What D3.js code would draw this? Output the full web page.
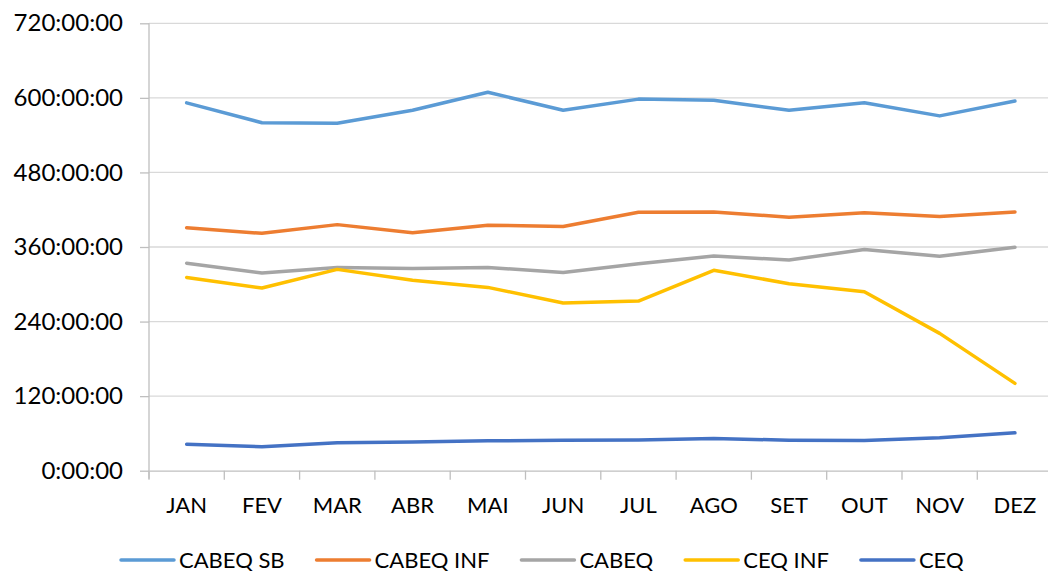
<!DOCTYPE html>
<html>
<head>
<meta charset="utf-8">
<script src="https://cdn.jsdelivr.net/npm/d3@7"></script>
<style>
  body { margin: 0; background: #fff; }
  svg text { font-family: Lato, "Open Sans", sans-serif; fill: #000; }
</style>
</head>
<body>
<svg id="chart" width="1048" height="573"></svg>
<script>
const months = ["JAN", "FEV", "MAR", "ABR", "MAI", "JUN", "JUL", "AGO", "SET", "OUT", "NOV", "DEZ"];

// hours per month
const cabeqSb = [592, 560, 559, 580, 609, 580, 598, 596, 580, 592, 571, 595];
const cabeqInf = [391, 382, 396, 383, 395, 393, 416, 416.5, 408, 415, 409, 416.5];
const cabeq = [334, 318, 327, 325.5, 327, 319, 333, 345.5, 339, 356, 345, 359.5];
const ceqInf = [311, 294, 324, 306.5, 295, 270, 273, 322.5, 301, 288, 221, 140.5];
const ceq = [42.5, 38.5, 45, 46, 48, 49, 49.5, 52, 49, 48.5, 53, 61];

const yTicks = [0, 120, 240, 360, 480, 600, 720];

const seriesNames = ["CABEQ SB", "CABEQ INF", "CABEQ", "CEQ INF", "CEQ"];
const seriesValues = [cabeqSb, cabeqInf, cabeq, ceqInf, ceq];
const seriesColors = ["#5B9BD5", "#ED7D31", "#A5A5A5", "#FFC000", "#4472C4"];

const svg = d3.select("#chart");

const plotLeft = 149, plotRight = 1052.6, plotTop = 23.3, plotBottom = 470.7;

const x = d3.scaleBand().domain(months).range([plotLeft, plotRight]);
const y = d3.scaleLinear().domain([0, 720]).range([plotBottom, plotTop]);

const hourFormat = d => d + ":00:00";

// gridlines
svg.append("g")
  .selectAll("line")
  .data(yTicks.filter(d => d > 0))
  .enter()
  .append("line")
  .attr("x1", plotLeft)
  .attr("x2", plotRight)
  .attr("y1", d => y(d))
  .attr("y2", d => y(d))
  .attr("stroke", "#d9d9d9")
  .attr("stroke-width", 1.3);

// y axis
const yAxis = svg.append("g")
  .attr("transform", "translate(" + plotLeft + ",0)")
  .call(d3.axisLeft(y).tickValues(yTicks).tickFormat(hourFormat).tickSize(9).tickPadding(17).tickSizeOuter(0));
yAxis.select(".domain").attr("stroke", "#bfbfbf").attr("stroke-width", 1.3)
  .attr("d", "M0," + plotTop + "V" + (plotBottom + 8));
yAxis.selectAll(".tick line").attr("stroke", "#bfbfbf").attr("stroke-width", 1.3);
yAxis.selectAll("text").attr("font-size", 24).attr("fill", "#000");

// x axis
const xAxis = svg.append("g")
  .attr("transform", "translate(0," + plotBottom + ")")
  .call(d3.axisBottom(x).tickSize(0).tickPadding(27).tickSizeOuter(0));
xAxis.select(".domain").attr("stroke", "#bfbfbf").attr("stroke-width", 1.3);
xAxis.selectAll("text").attr("font-size", 22).attr("fill", "#000");

xAxis.selectAll(".boundary")
  .data(d3.range(months.length + 1))
  .enter()
  .append("line")
  .attr("x1", i => plotLeft + i * x.step())
  .attr("x2", i => plotLeft + i * x.step())
  .attr("y1", 0)
  .attr("y2", 9)
  .attr("stroke", "#bfbfbf")
  .attr("stroke-width", 1.3);

// lines
const line = d3.line()
  .x((d, i) => x(months[i]) + x.bandwidth() / 2)
  .y(d => y(d));

svg.append("g")
  .selectAll("path")
  .data(seriesValues)
  .enter()
  .append("path")
  .attr("d", d => line(d))
  .attr("fill", "none")
  .attr("stroke", (d, i) => seriesColors[i])
  .attr("stroke-width", 3.5)
  .attr("stroke-linecap", "round")
  .attr("stroke-linejoin", "round");

// legend
const legend = svg.append("g").attr("transform", "translate(0,560)");
const items = legend.selectAll("g")
  .data(seriesNames)
  .enter()
  .append("g");

items.append("text")
  .attr("font-size", 22)
  .attr("dy", "0.35em")
  .text(d => d);

let widths = [];
items.select("text").each(function () { widths.push(this.getComputedTextLength()); });
const lineLen = 53, gapText = 5, gapItem = 32;
let cursor = 121;
items.each(function (d, i) {
  const g = d3.select(this).attr("transform", "translate(" + cursor + ",0)");
  g.append("line")
    .attr("x1", 0)
    .attr("x2", lineLen)
    .attr("stroke", seriesColors[i])
    .attr("stroke-width", 3.5)
    .attr("stroke-linecap", "round");
  g.select("text").attr("x", lineLen + gapText);
  cursor += lineLen + gapText + widths[i] + gapItem;
});
</script>
</body>
</html>
